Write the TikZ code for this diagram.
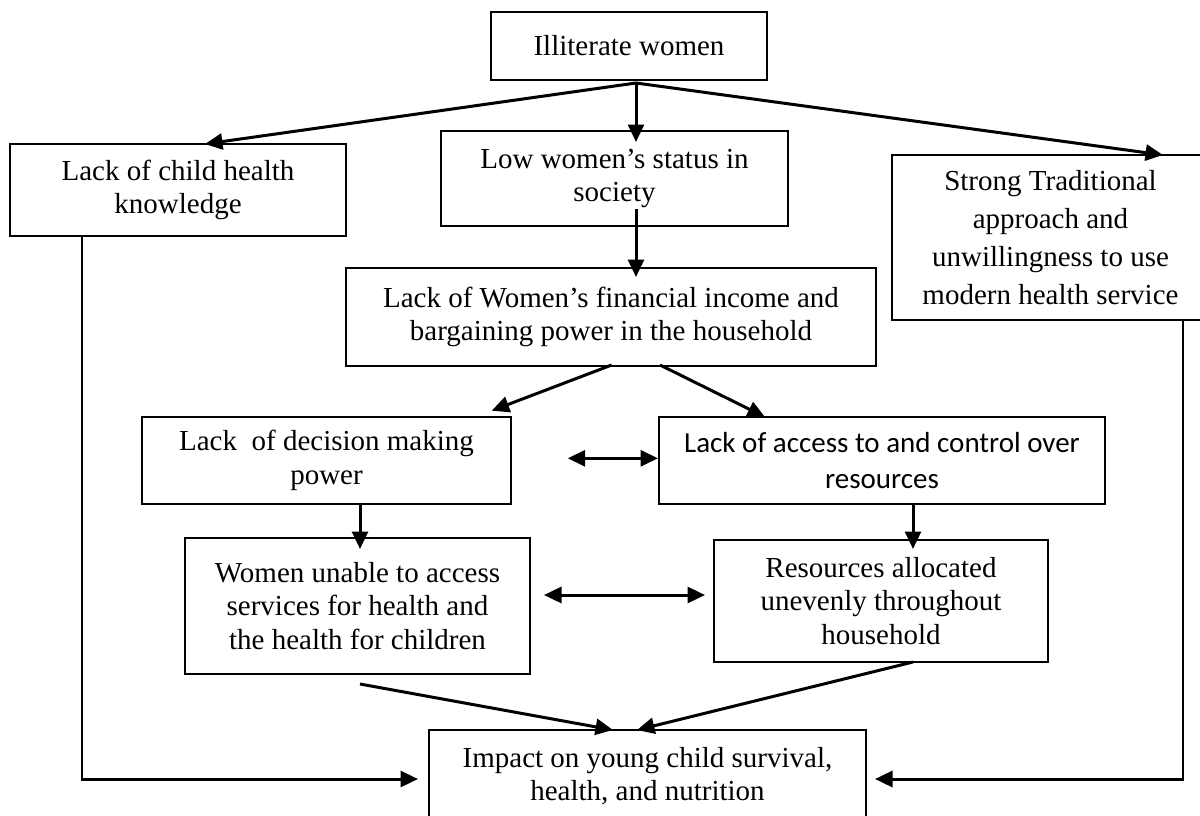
\documentclass[tikz,border=0pt]{standalone}
\usepackage{fontspec}
\setmainfont{Liberation Serif}
\newfontfamily\calibrifont{Carlito}
\usetikzlibrary{arrows.meta,calc}
\begin{document}
\begin{tikzpicture}[x=1pt,y=-1pt,
  box/.style={draw, line width=1.7pt, align=center, inner sep=0pt,
    font=\fontsize{29pt}{33.5pt}\selectfont},
  tip/.tip={Triangle[length=17.5pt,width=16pt]},
  arr/.style={line width=3pt, -tip},
  darr/.style={line width=3pt, tip-tip},
  side/.style={line width=2pt}]
\useasboundingbox (0,0) rectangle (1200,816);
\fill[white] (0,0) rectangle (1200,816);
\clip (0,0) rectangle (1200,816);

% boxes
\node[box, minimum width=276, minimum height=68] (ill) at (629,46) {Illiterate women};
\node[box, minimum width=336, minimum height=92] (child) at (178,190) {Lack of child health\\knowledge};
\node[box, minimum width=347, minimum height=95] (low) at (614.5,178.5) {Low women’s status in\\society};
\node[box, minimum width=317, minimum height=165, font=\fontsize{29pt}{38pt}\selectfont] (strong) at (1050.5,237.5)
  {Strong Traditional\\approach and\\unwillingness to use\\modern health service};
\node[box, minimum width=530, minimum height=98] (fin) at (611,317) {Lack of Women’s financial income and\\bargaining power in the household};
\node[box, minimum width=369, minimum height=87] (dec) at (326.5,460.5) {Lack\ \ of decision making\\power};
\node[box, minimum width=446, minimum height=87, font=\calibrifont\fontsize{29pt}{36pt}\selectfont] (acc) at (882,460.5)
  {Lack of access to and control over\\resources};
\node[box, minimum width=345, minimum height=136] (wom) at (357.5,606) {Women unable to access\\services for health and\\the health for children};
\node[box, minimum width=334.5, minimum height=122] (res) at (881,601) {Resources allocated\\unevenly throughout\\household};
\node[box, minimum width=437, minimum height=92] (imp) at (647.5,776) {Impact on young child survival,\\health, and nutrition};

% connector end points
\coordinate (src) at (636,83);
\coordinate (tchild) at (205,144);
\coordinate (tlow) at (636,142);
\coordinate (tstrong) at (1163,155);
\coordinate (slow) at (636,209);
\coordinate (tfin) at (636,277);
\coordinate (sfin1) at (611.7,365);
\coordinate (tdec) at (491.7,410.7);
\coordinate (sfin2) at (660,365);
\coordinate (tacc) at (765,417);
\coordinate (da1) at (567.7,458.3);
\coordinate (da2) at (658,458.3);
\coordinate (sdec) at (360,503);
\coordinate (twom) at (360,549);
\coordinate (sacc) at (913,504);
\coordinate (tres) at (913,549);
\coordinate (db1) at (544,595);
\coordinate (db2) at (705,595);
\coordinate (swom) at (360,684);
\coordinate (timp1) at (613,730);
\coordinate (sres) at (913,662);
\coordinate (timp2) at (637,730);
\coordinate (lc) at (82,779);
\coordinate (timpl) at (418,779);
\coordinate (rc) at (1182.5,779);
\coordinate (timpr) at (875,779);

% connectors
\draw[arr] (src) -- (tchild);
\draw[arr] (src) -- (tlow);
\draw[arr] (src) -- (tstrong);
\draw[arr] (slow) -- (tfin);
\draw[arr] (sfin1) -- (tdec);
\draw[arr] (sfin2) -- (tacc);
\draw[darr] (da1) -- (da2);
\draw[arr] (sdec) -- (twom);
\draw[arr] (sacc) -- (tres);
\draw[darr] (db1) -- (db2);
\draw[arr] (swom) -- (timp1);
\draw[arr] (sres) -- (timp2);
\draw[side] (child.south -| lc) -- (lc);
\draw[arr] ([xshift=-1pt]lc) -- (timpl);
\draw[side] (strong.south -| rc) -- (rc);
\draw[arr] ([xshift=1pt]rc) -- (timpr);
\end{tikzpicture}
\end{document}
